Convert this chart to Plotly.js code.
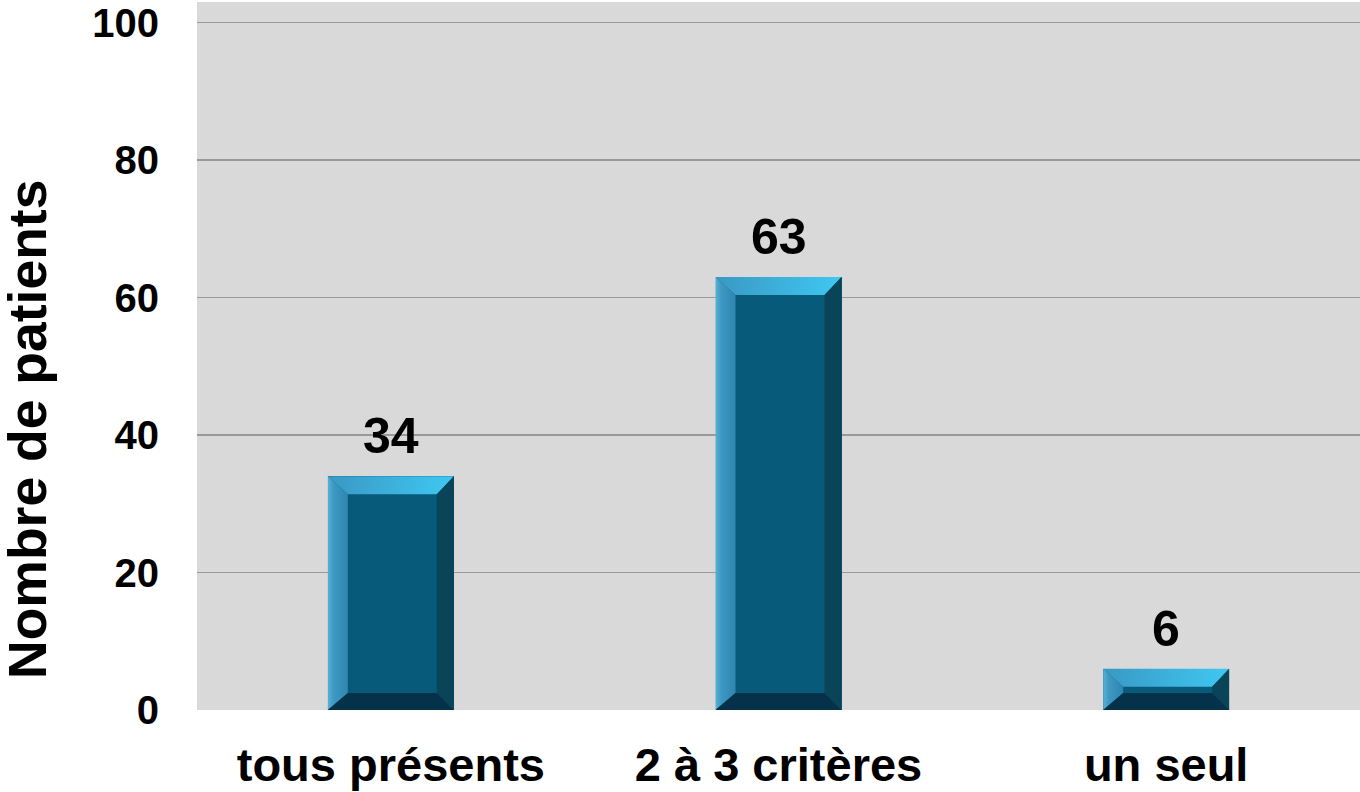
<!DOCTYPE html>
<html>
<head>
<meta charset="utf-8">
<script src="https://cdn.plot.ly/plotly-3.0.1.min.js"></script>
<style>
  html, body { margin: 0; padding: 0; background: #ffffff; }
  #chart { width: 1360px; height: 792px; }
</style>
</head>
<body>
<div id="chart"></div>
<script>
// Patients grouped by how many criteria are present
const categories = ['tous présents', '2 à 3 critères', 'un seul'];
const patients = [34, 63, 6];
const yTicks = [0, 20, 40, 60, 80, 100];
const yTitle = 'Nombre de patients';

// Layout geometry (px) used to size the bevel faces
const W = 1360, H = 792;
const M = { l: 197, r: 0, t: 2, b: 82 };
const Y_MAX = 103;
const BAR_W = 0.325;
const plotW = W - M.l - M.r;
const plotH = H - M.t - M.b;
const pxX = plotW / categories.length;   // px per category unit
const pxY = plotH / Y_MAX;               // px per value unit

const bevel = { top: 18 / pxY, bottom: 17 / pxY, left: 20 / pxX, right: 17 / pxX };

const FONT = 'Liberation Sans, Arial, Helvetica, sans-serif';
const xs = categories.map((_, i) => i);

const traces = [];

// Front face of each bar
traces.push({
  type: 'bar',
  x: xs,
  y: patients,
  width: BAR_W,
  marker: { color: '#085a7a', line: { width: 0 } },
  hoverinfo: 'skip'
});

// Bevelled edges around each face
function poly(pts, color, grad) {
  const t = {
    type: 'scatter',
    mode: 'lines',
    x: pts.map(p => p[0]).concat([pts[0][0]]),
    y: pts.map(p => p[1]).concat([pts[0][1]]),
    fill: 'toself',
    fillcolor: color,
    line: { width: 0, color: color },
    hoverinfo: 'skip',
    showlegend: false
  };
  if (grad) t.fillgradient = grad;
  return t;
}

xs.forEach((c, i) => {
  const v = patients[i];
  const xl = c - BAR_W / 2, xr = c + BAR_W / 2;
  const yt = v, yb = 0;
  const il = xl + bevel.left, ir = xr - bevel.right;
  const it = yt - bevel.top, ib = yb + bevel.bottom;

  // top edge: light, brighter toward the right
  traces.push(poly([[xl, yt], [xr, yt], [ir, it], [il, it]], '#3cb2de',
    { type: 'horizontal', colorscale: [[0, '#3a98c4'], [1, '#3ec8f2']] }));
  // left edge
  traces.push(poly([[xl, yt], [il, it], [il, ib], [xl, yb]], '#3990bb',
    { type: 'horizontal', colorscale: [[0, '#58b0d4'], [0.3, '#3c98c2'], [1, '#2f85ae']] }));
  // right edge: shaded
  traces.push(poly([[xr, yt], [xr, yb], [ir, ib], [ir, it]], '#0a4459'));
  // bottom edge: darkest
  traces.push(poly([[xl, yb], [il, ib], [ir, ib], [xr, yb]], '#05324a'));
});

// Value labels above the bars
const annotations = xs.map((c, i) => ({
  x: c,
  y: patients[i],
  xref: 'x',
  yref: 'y',
  text: String(patients[i]),
  showarrow: false,
  yanchor: 'bottom',
  yshift: 10,
  font: { family: FONT, size: 50, color: '#000000', weight: 'bold' }
}));

// Vertical axis title, sitting a little below the middle of the axis
annotations.push({
  xref: 'paper',
  yref: 'paper',
  x: -0.1453,
  y: 0.3955,
  xanchor: 'center',
  yanchor: 'middle',
  textangle: -90,
  text: yTitle,
  showarrow: false,
  font: { family: FONT, size: 53.5, color: '#000000', weight: 'bold' }
});

const layout = {
  width: W,
  height: H,
  margin: M,
  paper_bgcolor: '#ffffff',
  plot_bgcolor: '#d9d9d9',
  showlegend: false,
  bargap: 0,
  font: { family: FONT, color: '#000000' },
  xaxis: {
    range: [-0.5, categories.length - 0.5],
    tickvals: xs,
    ticktext: categories,
    showgrid: false,
    zeroline: false,
    showline: false,
    ticks: '',
    ticklabelstandoff: 23,
    tickfont: { family: FONT, size: 47, color: '#000000', weight: 'bold' },
    fixedrange: true
  },
  yaxis: {
    range: [0, Y_MAX],
    tickvals: yTicks,
    ticktext: yTicks.map(String),
    showgrid: true,
    gridcolor: '#999999',
    gridwidth: 1.3,
    zeroline: false,
    showline: false,
    ticks: '',
    ticklabelstandoff: 37,
    tickfont: { family: FONT, size: 40, color: '#000000', weight: 'bold' },
    fixedrange: true
  },
  annotations: annotations
};

Plotly.newPlot('chart', traces, layout, { displayModeBar: false, staticPlot: true });
</script>
</body>
</html>
